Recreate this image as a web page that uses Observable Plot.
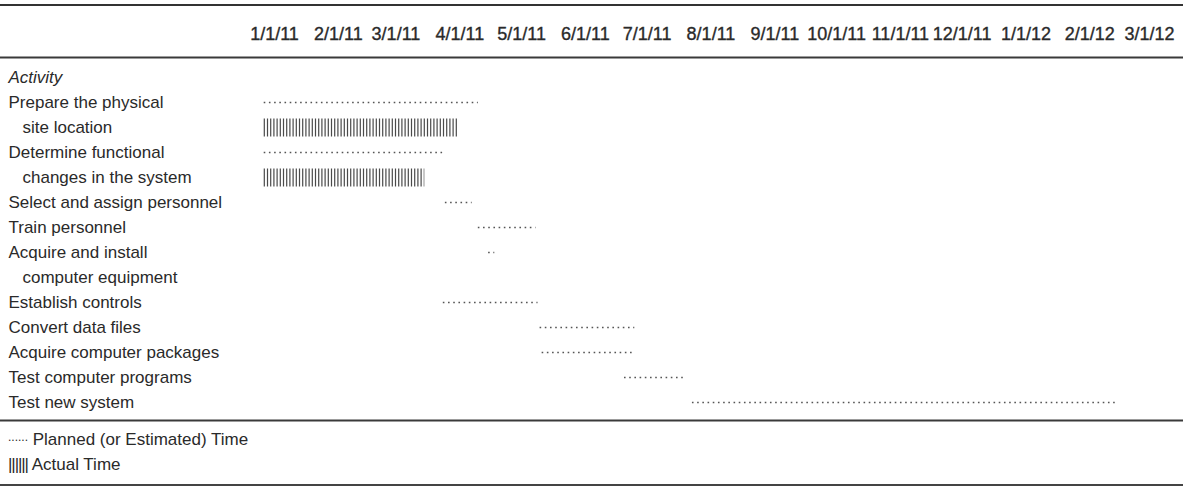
<!DOCTYPE html>
<html><head><meta charset="utf-8">
<script src="https://cdn.jsdelivr.net/npm/d3@7"></script>
<script src="https://cdn.jsdelivr.net/npm/@observablehq/plot@0.6"></script>
<style>
body{margin:0;background:#fff;font-family:"Liberation Sans",Arial,sans-serif;color:#2a2a2a;}
#wrap{width:1183px;margin-top:4px;border-top:2.5px solid #333;}
#chart svg{display:block}
#chart g[aria-label="x-axis tick label"] text{stroke:#2a2a2a;stroke-width:0.35px;}
#legend{font-size:17px;line-height:23px;padding:4px 0 8px 8px;border-bottom:2px solid #444;}
.dots{font-size:12px;position:relative;top:-4px;}
.pipes{letter-spacing:-1.1px;}
</style></head><body>
<div id="wrap"><div id="chart"></div>
<div id="legend"><div><span class="dots">......</span> Planned (or Estimated) Time</div><div><span class="pipes">||||||</span> Actual Time</div></div></div>
<script>
const tickLabels = ["1/1/11","2/1/11","3/1/11","4/1/11","5/1/11","6/1/11","7/1/11","8/1/11","9/1/11","10/1/11","11/1/11","12/1/11","1/1/12","2/1/12","3/1/12"];
const headerLabel = "Activity";
const activities = [
  ["Prepare the physical", "site location"],
  ["Determine functional", "changes in the system"],
  ["Select and assign personnel"],
  ["Train personnel"],
  ["Acquire and install", "computer equipment"],
  ["Establish controls"],
  ["Convert data files"],
  ["Acquire computer packages"],
  ["Test computer programs"],
  ["Test new system"]
];
const plannedStart = ["2010-12-27","2010-12-27","2011-03-25","2011-04-10","2011-04-15","2011-03-24","2011-05-10","2011-05-11","2011-06-20","2011-07-23"];
const plannedEnd   = ["2011-04-10","2011-03-24","2011-04-07","2011-05-08","2011-04-18","2011-05-09","2011-06-25","2011-06-25","2011-07-19","2012-02-14"];
const actualStart  = ["2010-12-27","2010-12-27",null,null,null,null,null,null,null,null];
const actualEnd    = ["2011-03-31","2011-03-15",null,null,null,null,null,null,null,null];

const parse = d3.utcParse("%Y-%m-%d");
const parseTick = d3.utcParse("%m/%d/%y");
const tickDates = tickLabels.map(parseTick);

const lines = [{row: 0, text: headerLabel, kind: "head"}];
const planned = [], actual = [];
let r = 1;
activities.forEach((a, i) => {
  a.forEach((t, j) => lines.push({row: r + j, text: t, kind: j ? "cont" : "main"}));
  planned.push({row: r, start: parse(plannedStart[i]), end: parse(plannedEnd[i])});
  if (actualStart[i]) actual.push({row: r + 1, start: parse(actualStart[i]), end: parse(actualEnd[i])});
  r += a.length;
});

const plot = Plot.plot({
  width: 1183, height: 418,
  marginTop: 51, marginBottom: 4, marginLeft: 0, marginRight: 0,
  style: {fontFamily: "'Liberation Sans', Arial, sans-serif", fontSize: "17px", color: "#2a2a2a", background: "white", overflow: "visible"},
  x: {type: "utc", domain: [tickDates[0], tickDates[tickDates.length - 1]], range: [274, 1149]},
  y: {type: "point", domain: d3.range(lines.length), range: [69, 397], padding: 0, axis: null},
  marks: [
    Plot.frame({anchor: "top", stroke: "#3a3a3a", strokeWidth: 2}),
    Plot.frame({anchor: "bottom", stroke: "#3a3a3a", strokeWidth: 2}),
    Plot.axisX({anchor: "top", ticks: tickDates, tickFormat: d3.utcFormat("%-m/%-d/%y"), tickSize: 0, tickPadding: 18, fontSize: 18}),
    Plot.text(lines.filter(d => d.kind === "head"), {y: "row", text: "text", frameAnchor: "left", textAnchor: "start", dx: 8, fontStyle: "italic"}),
    Plot.text(lines.filter(d => d.kind === "main"), {y: "row", text: "text", frameAnchor: "left", textAnchor: "start", dx: 8}),
    Plot.text(lines.filter(d => d.kind === "cont"), {y: "row", text: "text", frameAnchor: "left", textAnchor: "start", dx: 22}),
    Plot.ruleY(planned, {y: "row", x1: "start", x2: "end", stroke: "#555", strokeWidth: 1.6, strokeDasharray: "1.6 3.6"}),
    Plot.ruleY(actual, {y: "row", x1: "start", x2: "end", stroke: "#4a4a4a", strokeWidth: 18, strokeDasharray: "1.2 2"})
  ]
});
document.getElementById("chart").append(plot);
</script>
</body></html>
